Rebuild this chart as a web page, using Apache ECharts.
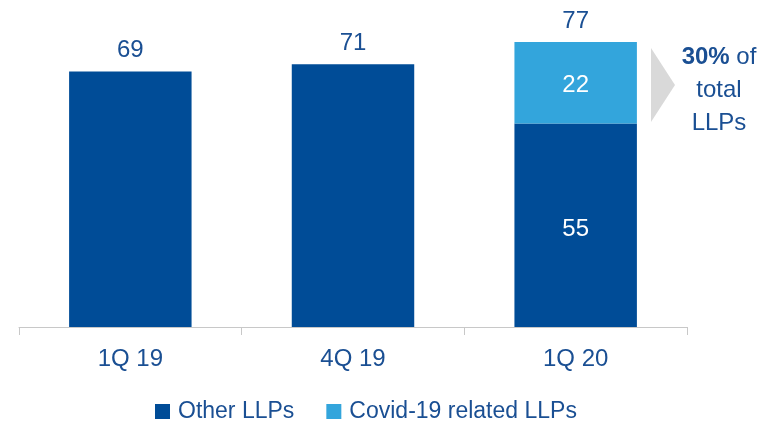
<!DOCTYPE html>
<html>
<head>
<meta charset="utf-8">
<script src="https://cdn.jsdelivr.net/npm/echarts@6/dist/echarts.min.js"></script>
<style>
  html, body { margin: 0; padding: 0; background: #fff; }
  #chart { width: 773px; height: 429px; }
</style>
</head>
<body>
<div id="chart"></div>
<script>
const categories = ['1Q 19', '4Q 19', '1Q 20']
const otherLLPs = [69, 71, 55]
const covidLLPs = [null, null, 22]
const totals = [69, 71, 77]

const FONT = "'Liberation Sans Narrow', 'Arial Narrow', 'Liberation Sans', sans-serif"
const DARK = '#004C97'
const LIGHT = '#33A5DC'
const TEXT = '#1A4F93'

const chart = echarts.init(document.getElementById('chart'))
chart.setOption({
  animation: false,
  textStyle: { fontFamily: FONT },
  grid: { left: 19, right: 86, top: 42, bottom: 102 },
  legend: {
    bottom: 1,
    left: 150,
    itemWidth: 15,
    itemHeight: 15,
    itemGap: 32,
    icon: 'rect',
    data: ['Other LLPs', 'Covid-19 related LLPs'],
    textStyle: { color: TEXT, fontSize: 23, fontFamily: FONT, padding: [0, 0, 0, 3] },
  },
  xAxis: {
    type: 'category',
    data: categories,
    axisLine: { lineStyle: { color: '#C8C8C8' } },
    axisTick: { show: true, length: 8, lineStyle: { color: '#C8C8C8' } },
    axisLabel: { color: TEXT, fontSize: 24, margin: 20, fontFamily: FONT },
  },
  yAxis: {
    type: 'value',
    min: 0,
    max: 77,
    show: false,
    splitLine: { show: false },
  },
  series: [
    {
      name: 'Other LLPs',
      type: 'bar',
      stack: 'llp',
      barWidth: '55%',
      itemStyle: { color: DARK },
      data: otherLLPs.map((v, i) => ({
        value: v,
        label: {
          show: covidLLPs[i] != null,
          position: 'inside',
          offset: [0, 4],
          color: '#fff',
          fontSize: 24,
          fontFamily: FONT,
        },
      })),
    },
    {
      name: 'Covid-19 related LLPs',
      type: 'bar',
      stack: 'llp',
      itemStyle: { color: LIGHT },
      label: { show: true, position: 'inside', offset: [0, 3], color: '#fff', fontSize: 24, fontFamily: FONT },
      data: covidLLPs,
    },
    {
      name: 'total',
      type: 'bar',
      stack: 'llp',
      itemStyle: { color: 'transparent' },
      label: {
        show: true,
        position: 'top',
        distance: 9,
        color: TEXT,
        fontSize: 24,
        fontFamily: FONT,
        formatter: (p) => totals[p.dataIndex],
      },
      data: totals.map(() => 0),
    },
  ],
  graphic: [
    {
      type: 'polygon',
      shape: { points: [[651, 48], [675, 85], [651, 122]] },
      style: { fill: '#D9D9D9' },
    },
    {
      type: 'text',
      x: 719,
      y: 41,
      style: {
        text: '{b|30%} of\ntotal\nLLPs',
        align: 'center',
        fill: TEXT,
        font: "24px 'Liberation Sans Narrow', 'Arial Narrow', 'Liberation Sans', sans-serif",
        lineHeight: 33,
        rich: {
          b: { fontWeight: 'bold', fontSize: 24, fontFamily: FONT, fill: TEXT, color: TEXT },
        },
      },
    },
  ],
})
</script>
</body>
</html>
